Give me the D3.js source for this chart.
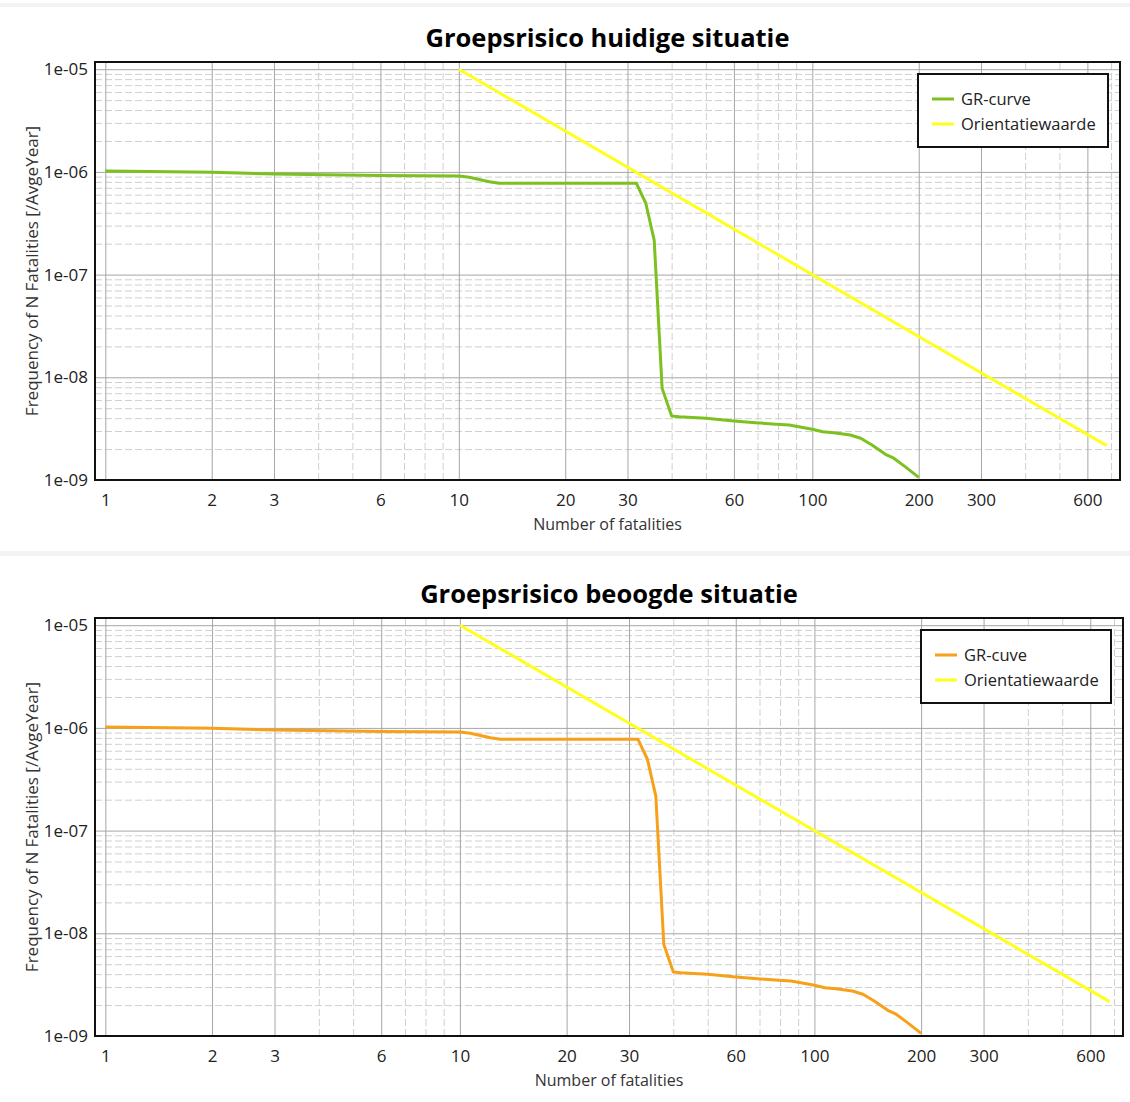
<!DOCTYPE html>
<html>
<head>
<meta charset="utf-8">
<script src="https://cdn.jsdelivr.net/npm/d3@7"></script>
<style>
body { margin: 0; background: #fff; }
text { font-family: "Open Sans", sans-serif; }
.grid .domain { display: none; }
.grid.minor line { stroke: #d0d0d0; stroke-width: 1; stroke-dasharray: 7,3; }
.grid.major line { stroke: #a6a6a6; stroke-width: 1; }
.axis .domain { display: none; }
.axis text { font-size: 17px; fill: #222; }
</style>
</head>
<body>
<script>
// GR curve (number of fatalities N, frequency per year)
var grN      = [1, 2, 3, 6, 10, 10.7, 12.2, 13, 31.8, 33.8, 35.7, 37.6, 40, 42, 50, 60, 69, 79, 86, 100, 107, 115, 128, 137, 147.5, 161, 170, 183, 200];
var grHuidig = [1.02e-6, 9.9e-7, 9.56e-7, 9.2e-7, 9.1e-7, 8.86e-7, 8.03e-7, 7.74e-7, 7.74e-7, 4.95e-7, 2.17e-7, 7.8e-9, 4.2e-9, 4.13e-9, 3.99e-9, 3.75e-9, 3.61e-9, 3.49e-9, 3.43e-9, 3.12e-9, 2.95e-9, 2.89e-9, 2.74e-9, 2.55e-9, 2.19e-9, 1.78e-9, 1.63e-9, 1.35e-9, 1.06e-9];
var grBeoogd = [1.02e-6, 9.9e-7, 9.56e-7, 9.2e-7, 9.1e-7, 8.86e-7, 8.03e-7, 7.74e-7, 7.74e-7, 4.95e-7, 2.17e-7, 7.8e-9, 4.2e-9, 4.13e-9, 3.99e-9, 3.75e-9, 3.61e-9, 3.49e-9, 3.43e-9, 3.12e-9, 2.95e-9, 2.89e-9, 2.74e-9, 2.55e-9, 2.19e-9, 1.78e-9, 1.63e-9, 1.35e-9, 1.06e-9];

// orientatiewaarde
var oriN   = [10, 680];
var oriVal = [1e-5, 2.16e-9];

var xMajor = [1, 2, 3, 6, 10, 20, 30, 60, 100, 200, 300, 600];
var xMinor = [4, 5, 7, 8, 9, 40, 50, 70, 80, 90, 400, 500, 700];
var yMajor = [1e-9, 1e-8, 1e-7, 1e-6, 1e-5];
var yTickLabels = ["1e-09", "1e-08", "1e-07", "1e-06", "1e-05"];

var xDomain = [0.935, 742];
var yDomain = [1e-9, 1.175e-5];

var width = 1130, height = 1102;
var svg = d3.select("body").append("svg").attr("width", width).attr("height", height);

svg.append("rect").attr("x", 0).attr("y", 3).attr("width", width).attr("height", 4).attr("fill", "#f3f3f3");
svg.append("rect").attr("x", 0).attr("y", 551).attr("width", width).attr("height", 5).attr("fill", "#f3f3f3");

function drawChart(cfg)
{
	var left = 95, top = cfg.top;
	var w = cfg.right - left, h = 418;
	var g = svg.append("g").attr("transform", "translate(" + left + "," + top + ")");

	var x = d3.scaleLog().domain(xDomain).range([0, w]);
	var y = d3.scaleLog().domain(yDomain).range([h, 0]);

	var yMinor = y.ticks().filter(function(d){ return yMajor.indexOf(d) < 0; });

	// grid
	g.append("g").attr("class", "grid minor").attr("transform", "translate(0," + h + ")")
		.call(d3.axisBottom(x).tickValues(xMinor).tickSize(-h).tickFormat(""));
	g.append("g").attr("class", "grid minor")
		.call(d3.axisLeft(y).tickValues(yMinor).tickSize(-w).tickFormat(""));
	g.append("g").attr("class", "grid major").attr("transform", "translate(0," + h + ")")
		.call(d3.axisBottom(x).tickValues(xMajor).tickSize(-h).tickFormat(""));
	g.append("g").attr("class", "grid major")
		.call(d3.axisLeft(y).tickValues(yMajor).tickSize(-w).tickFormat(""));

	// axes labels
	g.append("g").attr("class", "axis").attr("transform", "translate(0," + h + ")")
		.call(d3.axisBottom(x).tickValues(xMajor).tickSize(0).tickPadding(14).tickFormat(function(d){ return d; }));
	g.append("g").attr("class", "axis")
		.call(d3.axisLeft(y).tickValues(yMajor).tickSize(0).tickPadding(7).tickFormat(function(d, i){ return yTickLabels[i]; }));

	var line = d3.line()
		.x(function(d){ return x(d[0]); })
		.y(function(d){ return y(d[1]); });

	g.append("path").datum(d3.zip(oriN, oriVal))
		.attr("fill", "none").attr("stroke", "#ffff1e").attr("stroke-width", 3)
		.attr("d", line);
	g.append("path").datum(d3.zip(grN, cfg.values))
		.attr("fill", "none").attr("stroke", cfg.color).attr("stroke-width", 3)
		.attr("stroke-linejoin", "round")
		.attr("d", line);

	g.append("rect").attr("width", w).attr("height", h)
		.attr("fill", "none").attr("stroke", "#111").attr("stroke-width", 2);

	// titles
	g.append("text").attr("x", w / 2).attr("y", -15.5).attr("text-anchor", "middle")
		.style("font-size", "25.5px").style("font-weight", "bold").attr("fill", "#000")
		.text(cfg.title);
	g.append("text").attr("x", w / 2).attr("y", h + 50).attr("text-anchor", "middle")
		.style("font-size", "16px").attr("fill", "#333")
		.text("Number of fatalities");
	g.append("text").attr("transform", "translate(" + (38 - left) + "," + (h / 2) + ") rotate(-90)")
		.attr("text-anchor", "middle").style("font-size", "17px").attr("fill", "#333")
		.text("Frequency of N Fatalities [/AvgeYear]");

	// legend
	var lg = g.append("g").attr("transform", "translate(" + (w - 12 - 190) + ",12)");
	lg.append("rect").attr("width", 190).attr("height", 73)
		.attr("fill", "#fff").attr("stroke", "#111").attr("stroke-width", 2);
	var items = [[cfg.label, cfg.color], ["Orientatiewaarde", "#ffff1e"]];
	items.forEach(function(it, i) {
		lg.append("line").attr("x1", 14).attr("x2", 36).attr("y1", 25 + i * 25).attr("y2", 25 + i * 25)
			.attr("stroke", it[1]).attr("stroke-width", 3);
		lg.append("text").attr("x", 43).attr("y", 25 + i * 25).attr("dy", "0.35em")
			.style("font-size", "16.5px").attr("fill", "#222").text(it[0]);
	});
}

drawChart({ top: 62, right: 1120, title: "Groepsrisico huidige situatie", values: grHuidig, color: "#7cc11f", label: "GR-curve" });
drawChart({ top: 618, right: 1123, title: "Groepsrisico beoogde situatie", values: grBeoogd, color: "#f7a11a", label: "GR-cuve" });
</script>
</body>
</html>
